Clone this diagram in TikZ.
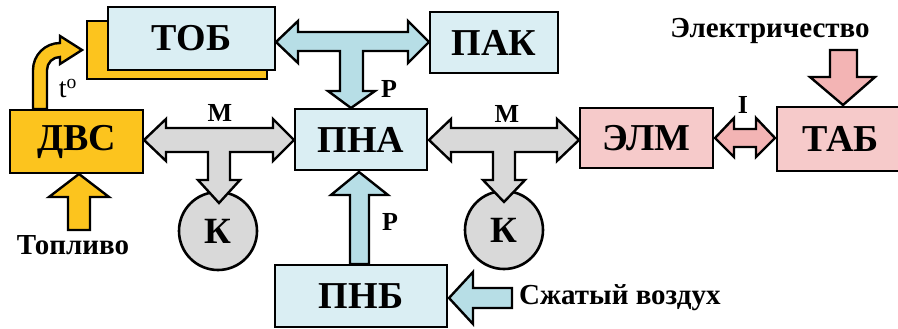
\documentclass[tikz,border=0pt]{standalone}
\usepackage{fontspec}
\setmainfont{Liberation Serif}[BoldFont={Liberation Serif Bold}]
\newfontfamily\tnrb{Liberation Serif Bold}
\definecolor{boxblue}{RGB}{218,238,243}
\definecolor{arrblue}{RGB}{183,222,230}
\definecolor{greyf}{RGB}{217,217,217}
\definecolor{yel}{RGB}{252,196,30}
\definecolor{pinkbox}{RGB}{246,202,202}
\definecolor{pinkarr}{RGB}{243,180,180}
\begin{document}
\begin{tikzpicture}[x=1pt,y=-1pt,
  blk/.style={draw=black, line width=2.6pt, inner sep=0pt, font=\tnrb\fontsize{38}{38}\selectfont},
  bluebox/.style={blk, fill=boxblue},
  yelbox/.style={blk, fill=yel},
  pinkbx/.style={blk, fill=pinkbox},
  circ/.style={draw=black, line width=2.6pt, fill=greyf, circle, minimum size=78pt, inner sep=0pt, font=\tnrb\fontsize{37}{37}\selectfont},
  arr/.style={draw=black, line width=2.4pt, line join=miter},
  lbl/.style={inner sep=0pt, font=\tnrb\fontsize{26}{26}\selectfont},
  txt/.style={inner sep=0pt, font=\tnrb\fontsize{29}{29}\selectfont}]
\useasboundingbox (0,0) rectangle (898,329);
% boxes
\node[yelbox, minimum width=180, minimum height=58] (tobback) at (177,50) {};
\node[bluebox, minimum width=167, minimum height=63] (tob) at (191.5,38.5) {ТОБ};
\node[bluebox, minimum width=128, minimum height=61] (pak) at (494,42.5) {ПАК};
\node[yelbox, minimum width=133, minimum height=63] (dvs) at (76.5,141.5) {ДВС};
\node[bluebox, minimum width=132, minimum height=61] (pna) at (361,139.5) {ПНА};
\node[pinkbx, minimum width=133, minimum height=60] (elm) at (646.5,138) {ЭЛМ};
\node[pinkbx, minimum width=128, minimum height=64] (tab) at (841,139) {ТАБ};
\node[bluebox, minimum width=172, minimum height=62] (pnb) at (361,296) {ПНБ};
\node[circ] (k1) at (218,231) {К};
\node[circ] (k2) at (504,230) {К};
% top blue T arrow (ТОБ <-> ПАК, down to ПНА)
\draw[arr, fill=arrblue] (276,42) -- (298,21) -- (298,32) -- (408,32) -- (408,21) -- (429,42)
  -- (408,63) -- (408,51) -- (363,51) -- (363,91) -- (375,91) -- (351,108) -- (328,91)
  -- (340,91) -- (340,51) -- (298,51) -- (298,63) -- cycle;
% grey T arrow 1 (ДВС <-> ПНА, down to К)
\draw[arr, fill=greyf] (144,140) -- (166,119) -- (166,128) -- (273,128) -- (273,119) -- (294,140)
  -- (273,161) -- (273,152) -- (230,152) -- (230,180) -- (240,180) -- (219,203) -- (198,180)
  -- (208,180) -- (208,152) -- (166,152) -- (166,161) -- cycle;
% grey T arrow 2 (ПНА <-> ЭЛМ, down to К)
\draw[arr, fill=greyf] (429,140) -- (451,119) -- (451,128) -- (557,128) -- (557,119) -- (579,140)
  -- (557,161) -- (557,152) -- (515,152) -- (515,180) -- (525,180) -- (504,202) -- (483,180)
  -- (493,180) -- (493,152) -- (451,152) -- (451,161) -- cycle;
% pink double arrow I
\draw[arr, fill=pinkarr] (715,138) -- (734,118) -- (734,129) -- (756,129) -- (756,118) -- (775,138)
  -- (756,157) -- (756,147) -- (734,147) -- (734,157) -- cycle;
% pink down arrow into ТАБ
\draw[arr, fill=pinkarr] (830,50) -- (857,50) -- (857,77) -- (875,77) -- (843,105) -- (810,77) -- (830,77) -- cycle;
% yellow up arrow into ДВС
\draw[arr, fill=yel] (68,230) -- (68,197) -- (49,197) -- (79,174) -- (109,197) -- (90,197) -- (90,230) -- cycle;
% blue up arrow ПНБ -> ПНА
\draw[arr, fill=arrblue] (350,264) -- (350,195) -- (331,195) -- (359,172) -- (388,195) -- (369,195) -- (369,264) -- cycle;
% blue left arrow (Сжатый воздух) into ПНБ
\draw[arr, fill=arrblue] (512,288) -- (473,288) -- (473,272) -- (449,298) -- (473,324) -- (473,308) -- (512,308) -- cycle;
% yellow curved arrow ДВС -> ТОБ
\draw[arr, fill=yel] (33,109) -- (33,70) arc[start angle=180, end angle=270, radius=27] -- (60,36) -- (82,50)
  -- (60,64) -- (60,57) arc[start angle=270, end angle=180, radius=13] -- (47,109) -- cycle;
% labels
\node[lbl] (m1) at (220,113) {M};
\node[lbl] (m2) at (507,114) {M};
\node[lbl] (p1) at (389,89) {P};
\node[lbl] (p2) at (390,222) {P};
\node[lbl] (i) at (743,105) {I};
\node[inner sep=0pt, font=\fontsize{28}{28}\selectfont] (t) at (68,89) {t\textsuperscript{o}};
\node[txt] (el) at (770,31) {Электричество};
\node[txt] (top) at (73,245) {Топливо};
\node[txt, anchor=west] (air) at (519,298) {Сжатый воздух};
\end{tikzpicture}
\end{document}
